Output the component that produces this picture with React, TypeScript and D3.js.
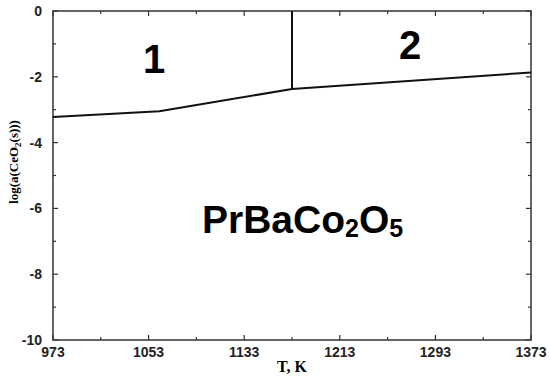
import React, { useEffect, useRef } from 'react';
import * as d3 from 'd3';

const temps = [973, 1062, 1173, 1373];
const logA = [-3.22, -3.05, -2.37, -1.87];
const boundaryT = 1173;
const xTicks = [973, 1053, 1133, 1213, 1293, 1373];
const yTicks = [0, -2, -4, -6, -8, -10];

export default function App() {
  const svgRef = useRef<SVGSVGElement>(null);

  useEffect(() => {
    if (!svgRef.current) return;
    const svg = d3.select(svgRef.current);
    svg.selectAll('*').remove();

    const width = 550;
    const height = 378;
    const margin = { top: 11, right: 19, bottom: 38, left: 53 };
    const x0 = margin.left, x1 = width - margin.right;
    const y0 = height - margin.bottom, y1 = margin.top;

    const x = d3.scaleLinear().domain([973, 1373]).range([x0, x1]);
    const y = d3.scaleLinear().domain([-10, 0]).range([y0, y1]);

    const sans = 'Arial, "Liberation Sans", sans-serif';
    const serif = '"Times New Roman", "Liberation Serif", serif';
    const axisColor = '#333';

    // frame
    svg.append('rect')
      .attr('x', x0).attr('y', y1)
      .attr('width', x1 - x0).attr('height', y0 - y1)
      .attr('fill', 'none').attr('stroke', axisColor).attr('stroke-width', 1.5);

    // ticks point inward on all four sides, minor ones halfway
    const xMinor = d3.range(1013, 1373, 80);
    const tickG = svg.append('g').attr('stroke', axisColor).attr('stroke-width', 1.2);
    xTicks.forEach(t => {
      tickG.append('line').attr('x1', x(t)).attr('x2', x(t)).attr('y1', y0).attr('y2', y0 - 5);
      tickG.append('line').attr('x1', x(t)).attr('x2', x(t)).attr('y1', y1).attr('y2', y1 + 5);
    });
    xMinor.forEach(t => {
      tickG.append('line').attr('x1', x(t)).attr('x2', x(t)).attr('y1', y0).attr('y2', y0 - 3);
      tickG.append('line').attr('x1', x(t)).attr('x2', x(t)).attr('y1', y1).attr('y2', y1 + 3);
    });
    const yMinor = [-1, -3, -5, -7, -9];
    yTicks.forEach(v => {
      tickG.append('line').attr('x1', x0).attr('x2', x0 + 5).attr('y1', y(v)).attr('y2', y(v));
      tickG.append('line').attr('x1', x1).attr('x2', x1 - 5).attr('y1', y(v)).attr('y2', y(v));
    });
    yMinor.forEach(v => {
      tickG.append('line').attr('x1', x0).attr('x2', x0 + 3).attr('y1', y(v)).attr('y2', y(v));
      tickG.append('line').attr('x1', x1).attr('x2', x1 - 3).attr('y1', y(v)).attr('y2', y(v));
    });

    // tick labels
    svg.append('g').selectAll('text').data(xTicks).join('text')
      .attr('x', d => x(d)).attr('y', y0 + 17)
      .attr('text-anchor', 'middle')
      .attr('font-family', sans).attr('font-weight', 'bold').attr('font-size', 14)
      .attr('fill', '#222')
      .text(d => d);
    svg.append('g').selectAll('text').data(yTicks).join('text')
      .attr('x', x0 - 11).attr('y', d => y(d) + 5)
      .attr('text-anchor', 'end')
      .attr('font-family', sans).attr('font-weight', 'bold').attr('font-size', 14)
      .attr('fill', '#222')
      .text(d => d);

    // axis titles
    svg.append('text')
      .attr('x', (x0 + x1) / 2).attr('y', 372)
      .attr('text-anchor', 'middle')
      .attr('font-family', serif).attr('font-weight', 'bold').attr('font-size', 16)
      .text('T, K');

    const yl = svg.append('text')
      .attr('transform', `translate(18,162) rotate(-90)`)
      .attr('text-anchor', 'middle')
      .attr('font-family', serif).attr('font-weight', 'bold').attr('font-size', 13);
    yl.append('tspan').text('log(a(CeO');
    yl.append('tspan').attr('font-size', 9).attr('dy', 3).text('2');
    yl.append('tspan').attr('dy', -3).text('(s)))');

    // phase boundary curve
    const pts = temps.map((t, i) => [t, logA[i]] as [number, number]);
    svg.append('path')
      .datum(pts)
      .attr('fill', 'none').attr('stroke', '#111').attr('stroke-width', 2)
      .attr('d', d3.line<[number, number]>().x(d => x(d[0])).y(d => y(d[1])));

    // vertical boundary
    const bIdx = temps.indexOf(boundaryT);
    svg.append('line')
      .attr('x1', x(boundaryT)).attr('x2', x(boundaryT))
      .attr('y1', y(0)).attr('y2', y(logA[bIdx]))
      .attr('stroke', '#111').attr('stroke-width', 2);

    // region labels
    svg.append('text')
      .attr('x', 154).attr('y', 73)
      .attr('text-anchor', 'middle')
      .attr('font-family', sans).attr('font-weight', 'bold').attr('font-size', 40)
      .text('1');
    svg.append('text')
      .attr('x', 410).attr('y', 59)
      .attr('text-anchor', 'middle')
      .attr('font-family', sans).attr('font-weight', 'bold').attr('font-size', 40)
      .text('2');

    // compound label
    const f = svg.append('text')
      .attr('x', 202).attr('y', 233)
      .attr('font-family', sans).attr('font-weight', 'bold').attr('font-size', 39);
    f.append('tspan').text('PrBaCo');
    f.append('tspan').attr('font-size', 25).attr('dy', 4).text('2');
    f.append('tspan').attr('dy', -4).text('O');
    f.append('tspan').attr('font-size', 25).attr('dy', 4).text('5');
  }, []);

  return (
    <svg
      ref={svgRef}
      width={550}
      height={378}
      viewBox="0 0 550 378"
      style={{ position: 'absolute', left: 0, top: 0, background: '#fff' }}
    />
  );
}
